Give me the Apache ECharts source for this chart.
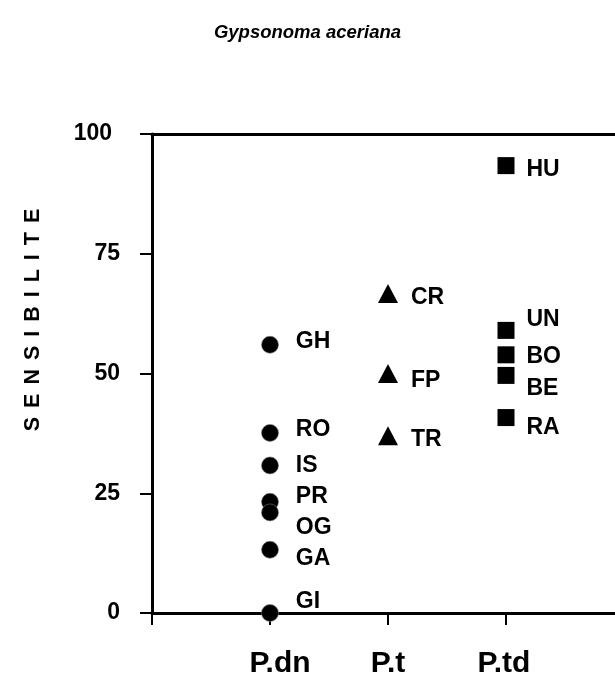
<!DOCTYPE html>
<html>
<head>
<meta charset="utf-8">
<script src="https://cdn.jsdelivr.net/npm/echarts@6/dist/echarts.min.js"></script>
<style>html,body{margin:0;padding:0;background:#fff}#c{width:615px;height:686px}</style>
</head>
<body>
<div id="c"></div>
<script>
var categories = ['P.dn', 'P.t', 'P.td'];
var yTicks = [0, 25, 50, 75, 100];
var yTitle = 'SENSIBILITE';

var pdnNames = ['GH', 'RO', 'IS', 'PR', 'OG', 'GA', 'GI'];
var pdnValues = [56, 37.6, 30.8, 23.2, 21, 13.2, 0];

var ptNames = ['CR', 'FP', 'TR'];
var ptValues = [66.7, 50, 37];

var ptdNames = ['HU', 'UN', 'BO', 'BE', 'RA'];
var ptdValues = [93.4, 59, 53.9, 49.6, 40.8];

// label vertical nudges (style only)
var pdnLabelDy = [-3, -3, 0, -5, 15, 9, -11];
var ptLabelDy = [4, 7, 4];
var ptdLabelDy = [4, -11, 2, 13, 10];
// x-axis category label horizontal nudges (style only)
var catLabelDx = [10, 0, -2];

var FONT = 'Liberation Sans, Arial, sans-serif';

function build(catIndex, names, values, dys) {
  return values.map(function (v, i) {
    return {
      name: names[i],
      value: [catIndex + 1, v],
      label: { offset: [0, dys[i]] }
    };
  });
}

// spaced vertical axis title built letter by letter
var titleFontSize = 21.5;
var mctx = document.createElement('canvas').getContext('2d');
mctx.font = 'bold ' + titleFontSize + 'px ' + FONT;
var gap = 9;
var widths = yTitle.split('').map(function (ch) { return mctx.measureText(ch).width; });
var total = widths.reduce(function (a, b) { return a + b; }, 0) + gap * (widths.length - 1);
var letters = [];
var pos = -total / 2;
yTitle.split('').forEach(function (ch, i) {
  letters.push({
    type: 'text', x: pos, y: 0,
    style: { text: ch, fontFamily: FONT, fontWeight: 'bold', fontSize: titleFontSize, fill: '#000',
      align: 'left', verticalAlign: 'middle' }
  });
  pos += widths[i] + gap;
});

var chart = echarts.init(document.getElementById('c'));
var labelBase = {
  show: true, position: 'right', formatter: '{b}',
  color: '#000', fontFamily: FONT, fontWeight: 'bold', fontSize: 23
};

var catRich = {};
catLabelDx.forEach(function (dx, i) {
  catRich['c' + i] = {
    fontFamily: FONT, fontWeight: 'bold', fontSize: 30, color: '#000',
    padding: dx >= 0 ? [0, 0, 0, 2 * dx] : [0, -2 * dx, 0, 0]
  };
});

chart.setOption({
  animation: false,
  backgroundColor: '#fff',
  title: {
    text: 'Gypsonoma aceriana', left: 'center', top: 18,
    textStyle: { fontFamily: FONT, fontStyle: 'italic', fontWeight: 'bold', fontSize: 18.5, color: '#000' }
  },
  graphic: [{
    type: 'group', x: 33, y: 320, rotation: Math.PI / 2,
    children: letters
  }],
  grid: { left: 152, top: 134, right: 0, bottom: 73 },
  xAxis: [{
    type: 'value', min: 0, max: 463 / 118, interval: 1,
    splitLine: { show: false },
    axisLine: { lineStyle: { color: '#000', width: 3 } },
    axisTick: { show: true, inside: false, length: 12, lineStyle: { color: '#000', width: 2 } },
    axisLabel: {
      margin: 36, color: '#000', fontFamily: FONT, fontWeight: 'bold', fontSize: 30,
      showMaxLabel: false,
      formatter: function (v) {
        return (v >= 1 && v <= categories.length) ? '{c' + (v - 1) + '|' + categories[v - 1] + '}' : '';
      },
      rich: catRich
    }
  }, {
    type: 'value', position: 'top', min: 0, max: 463 / 118,
    splitLine: { show: false },
    axisLine: { show: true, lineStyle: { color: '#000', width: 3 } },
    axisTick: { show: false }, axisLabel: { show: false }
  }],
  yAxis: {
    type: 'value', min: yTicks[0], max: yTicks[yTicks.length - 1], interval: 25,
    splitLine: { show: false },
    axisLine: { show: true, lineStyle: { color: '#000', width: 3 } },
    axisTick: { show: true, length: 12, lineStyle: { color: '#000', width: 2 } },
    axisLabel: {
      margin: 32, color: '#000', fontFamily: FONT, fontWeight: 'bold', fontSize: 23,
      formatter: function (v) { return v === 100 ? '{w|' + v + '}' : String(v); },
      rich: { w: { fontFamily: FONT, fontWeight: 'bold', fontSize: 23, color: '#000', padding: [0, 8, 0, 0] } }
    }
  },
  series: [{
    type: 'scatter', symbol: 'circle', symbolSize: 17,
    itemStyle: { color: '#000', opacity: 1, borderColor: '#777', borderWidth: 0.6 },
    label: Object.assign({ distance: 17 }, labelBase),
    data: build(0, pdnNames, pdnValues, pdnLabelDy), z: 5
  }, {
    type: 'scatter', symbol: 'triangle', symbolSize: [20, 19],
    itemStyle: { color: '#000', opacity: 1 },
    label: Object.assign({ distance: 13 }, labelBase),
    data: build(1, ptNames, ptValues, ptLabelDy), z: 5
  }, {
    type: 'scatter', symbol: 'rect', symbolSize: 17,
    itemStyle: { color: '#000', opacity: 1 },
    label: Object.assign({ distance: 12 }, labelBase),
    data: build(2, ptdNames, ptdValues, ptdLabelDy), z: 5
  }]
});
</script>
</body>
</html>
